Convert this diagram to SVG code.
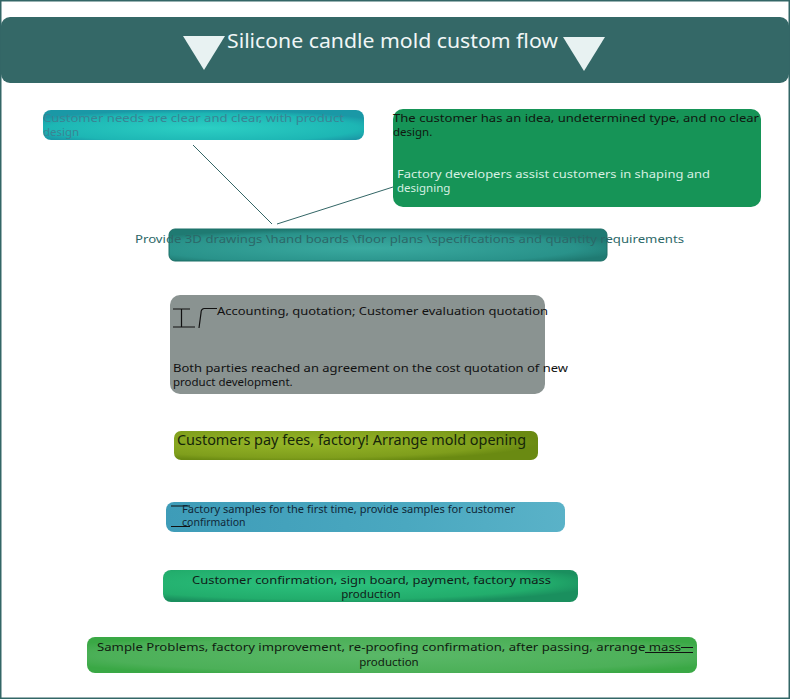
<svg xmlns="http://www.w3.org/2000/svg" width="790" height="700" viewBox="0 0 790 700">
<defs>
<style>
text{font-family:"Noto Sans","Open Sans","DejaVu Sans",sans-serif;}
.t12{font-size:11.5px;}
.dark{fill:#111;}
.conn{stroke:#336666;stroke-width:1;fill:none;}
.deco{stroke:#111;stroke-width:1.2;fill:none;}
</style>
<radialGradient id="g1" cx="50%" cy="60%" r="60%">
<stop offset="0" stop-color="#2ccfc4"/><stop offset="0.8" stop-color="#1db6b4"/><stop offset="1" stop-color="#1a98a6"/>
</radialGradient>
<radialGradient id="g3" cx="45%" cy="60%" r="60%">
<stop offset="0" stop-color="#3aaaa0"/><stop offset="0.8" stop-color="#29928a"/><stop offset="1" stop-color="#1f7a72"/>
</radialGradient>
<radialGradient id="g5" cx="35%" cy="40%" r="65%">
<stop offset="0" stop-color="#96b628"/><stop offset="0.8" stop-color="#7f9e1c"/><stop offset="1" stop-color="#6a8a12"/>
</radialGradient>
<linearGradient id="g6" x1="0" y1="0" x2="1" y2="0">
<stop offset="0" stop-color="#3e9cb8"/><stop offset="0.6" stop-color="#4aa8c0"/><stop offset="1" stop-color="#5ab2c8"/>
</linearGradient>
<radialGradient id="g7" cx="40%" cy="40%" r="65%">
<stop offset="0" stop-color="#2cc27e"/><stop offset="0.8" stop-color="#22ad6c"/><stop offset="1" stop-color="#1a8f5e"/>
</radialGradient>
<radialGradient id="g8" cx="50%" cy="50%" r="60%">
<stop offset="0" stop-color="#5ab868"/><stop offset="0.8" stop-color="#4cb058"/><stop offset="1" stop-color="#3aa845"/>
</radialGradient>
</defs>
<rect x="0" y="0" width="790" height="700" fill="#ffffff"/>
<rect x="0.75" y="0.75" width="788.5" height="697.5" fill="none" stroke="#336666" stroke-width="1.5"/>

<g id="header">
<rect x="1" y="17" width="788" height="66" rx="9" fill="#346867"/>
<polygon points="183,36 225,36 204,70" fill="#e8f2f2"/>
<polygon points="563,37 605,37 584,71" fill="#e8f2f2"/>
<text x="392.5" y="48" font-size="20" fill="#f0f6f6" text-anchor="middle" textLength="331" lengthAdjust="spacingAndGlyphs">Silicone candle mold custom flow</text>
</g>

<g id="connectors">
<line class="conn" x1="193" y1="145" x2="272" y2="224"/>
<line class="conn" x1="277" y1="224" x2="393" y2="187"/>
</g>

<g id="n1">
<rect x="43" y="110" width="321" height="30" rx="8" fill="url(#g1)"/>
<text class="t12" fill="#3a8494"><tspan x="43" y="122" textLength="301" lengthAdjust="spacingAndGlyphs">Customer needs are clear and clear, with product</tspan><tspan x="43" y="136">design</tspan></text>
</g>

<g id="n2">
<rect x="393" y="109" width="368" height="98" rx="10" fill="#169457"/>
<text class="t12" fill="#101810"><tspan x="393" y="122" textLength="366" lengthAdjust="spacingAndGlyphs">The customer has an idea, undetermined type, and no clear</tspan><tspan x="393" y="136">design.</tspan></text>
<text class="t12" fill="#d6f0e2"><tspan x="397" y="178" textLength="313" lengthAdjust="spacingAndGlyphs">Factory developers assist customers in shaping and</tspan><tspan x="397" y="192">designing</tspan></text>
</g>

<g id="n3">
<rect x="169" y="229" width="438" height="32" rx="6" fill="url(#g3)" stroke="#1d6e66" stroke-width="1"/>
<text class="t12" x="135" y="243" fill="#2c6868" textLength="549" lengthAdjust="spacingAndGlyphs">Provide 3D drawings \hand boards \floor plans \specifications and quantity requirements</text>
</g>

<g id="n4">
<rect x="170" y="295" width="375" height="99" rx="10" fill="#8a9391"/>
<path class="deco" d="M173,309 H190 M181.5,309 V327 M173,327 H195 M217,308.5 H204 Q201,309 201,313 L199,328"/>
<text class="t12 dark" x="217" y="315" textLength="331" lengthAdjust="spacingAndGlyphs">Accounting, quotation; Customer evaluation quotation</text>
<text class="t12 dark"><tspan x="173" y="372" textLength="395" lengthAdjust="spacingAndGlyphs">Both parties reached an agreement on the cost quotation of new</tspan><tspan x="173" y="386">product development.</tspan></text>
</g>

<g id="n5">
<rect x="174" y="431" width="364" height="29" rx="7" fill="url(#g5)"/>
<text x="177" y="445" font-size="14" fill="#15250a" textLength="349" lengthAdjust="spacingAndGlyphs">Customers pay fees, factory! Arrange mold opening</text>
</g>

<g id="n6">
<rect x="166" y="502" width="399" height="30" rx="8" fill="url(#g6)"/>
<path class="deco" d="M171,506 H190 M171,526.5 H190"/>
<text font-size="10.5" fill="#102838"><tspan x="182" y="513" textLength="333" lengthAdjust="spacingAndGlyphs">Factory samples for the first time, provide samples for customer</tspan><tspan x="182" y="526">confirmation</tspan></text>
</g>

<g id="n7">
<rect x="163" y="570" width="415" height="32" rx="8" fill="url(#g7)"/>
<text class="t12" fill="#102018" text-anchor="middle"><tspan x="371.5" y="584" textLength="359" lengthAdjust="spacingAndGlyphs">Customer confirmation, sign board, payment, factory mass</tspan><tspan x="371" y="598">production</tspan></text>
</g>

<g id="n8">
<rect x="87" y="637" width="610" height="36" rx="8" fill="url(#g8)"/>
<path class="deco" d="M681,647.5 H693 M645,652.5 H693"/>
<text class="t12" fill="#102010" text-anchor="middle"><tspan x="389" y="651" textLength="584" lengthAdjust="spacingAndGlyphs">Sample Problems, factory improvement, re-proofing confirmation, after passing, arrange mass</tspan><tspan x="389" y="666">production</tspan></text>
</g>
</svg>
